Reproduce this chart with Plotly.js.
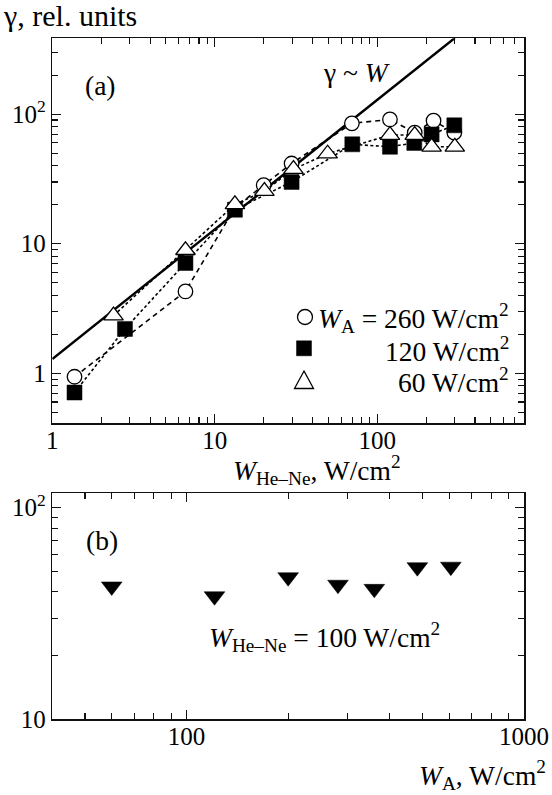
<!DOCTYPE html>
<html>
<head>
<meta charset="utf-8">
<script src="https://cdn.plot.ly/plotly-3.0.1.min.js"></script>
<style>html,body{margin:0;padding:0;background:#fff;}</style>
</head>
<body>
<div id="chart" style="width:552px;height:795px;"></div>
<script>
// Panel (a): gamma vs W_He-Ne for three W_A values
const heNe260 = [1.37, 6.6, 13.3, 20, 29.7, 69.8, 119.7, 170, 222, 298];
const gamma260 = [0.94, 4.28, 19, 28.3, 41.6, 85, 91, 72, 89, 72];
const heNe120 = [1.37, 2.8, 6.6, 13.3, 29.7, 70.2, 119.7, 169, 216, 298];
const gamma120 = [0.71, 2.2, 7.1, 18.3, 30, 58.5, 56, 60, 69.8, 82];
const heNe60 = [2.38, 6.6, 13.3, 20.2, 30.5, 49.5, 119.7, 170, 216, 300];
const gamma60 = [2.79, 8.9, 20.1, 25.5, 37.6, 49.5, 69, 69, 56, 56];
// gamma ~ W reference line
const fitW = [1, 300];
const fitGamma = [1.29, 387];
// Panel (b): gamma vs W_A at W_He-Ne = 100 W/cm2
const wA = [60, 121, 200, 281, 360, 483, 607];
const gammaB = [42.4, 38.1, 46.9, 43.2, 41.3, 52.3, 52.6];

// tick labels
const xTickValsA = [1, 10, 100];
const xTickTextA = ['1', '10', '100'];
const yTickValsA = [1, 10, 100];
const yTickTextA = ['1', '10', '10<sup>2</sup>'];
const xTickValsB = [100, 1000];
const xTickTextB = ['100', '1000'];
const yTickValsB = [10, 100];
const yTickTextB = ['10', '10<sup>2</sup>'];

const W = 552, H = 795;
const FONT = 'Liberation Serif';
const px = x => x / W;
const py = y => 1 - y / H;

function minorVals(lo, hi) {
  const v = [];
  for (let d = Math.pow(10, Math.floor(Math.log10(lo))); d < hi; d *= 10) {
    for (let k = 1; k < 10; k++) {
      const t = k * d;
      if (k !== 1 && t >= lo && t <= hi) v.push(t);
    }
  }
  return v;
}

function axis(extra) {
  return Object.assign({
    type: 'log',
    showline: true, linecolor: '#111', linewidth: 1.5,
    mirror: 'ticks', ticks: 'inside', ticklen: 9, tickwidth: 1.3, tickcolor: '#111',
    showgrid: false, zeroline: false, tickmode: 'array',
    tickfont: {family: FONT, size: 25, color: '#000'},
  }, extra);
}

const traces = [
  {x: fitW, y: fitGamma, mode: 'lines', line: {color: '#000', width: 2.4}, xaxis: 'x', yaxis: 'y', hoverinfo: 'skip'},
  {x: heNe260, y: gamma260, mode: 'lines+markers', xaxis: 'x', yaxis: 'y',
   line: {color: '#000', width: 1.6, dash: '5px,4px'},
   marker: {symbol: 'circle', size: 14.5, color: '#fff', line: {color: '#000', width: 1.3}}},
  {x: heNe120, y: gamma120, mode: 'lines+markers', xaxis: 'x', yaxis: 'y',
   line: {color: '#000', width: 1.6, dash: '3px,2.5px'},
   marker: {symbol: 'square', size: 15, color: '#000', line: {color: '#000', width: 0.5}}},
  {x: heNe60, y: gamma60, mode: 'lines+markers', xaxis: 'x', yaxis: 'y',
   line: {color: '#000', width: 1.6, dash: '3px,2.5px'},
   marker: {symbol: 'triangle-up', size: 17, color: '#fff', line: {color: '#000', width: 1.3}}},
  {x: wA, y: gammaB, mode: 'markers', xaxis: 'x2', yaxis: 'y2',
   marker: {symbol: 'triangle-down', size: 18, color: '#000', line: {color: '#000', width: 0.5}}}
];

function ann(text, x, y, xanchor, size) {
  return {text: text, x: px(x), y: py(y), xref: 'paper', yref: 'paper', showarrow: false,
    xanchor: xanchor || 'center', yanchor: 'middle',
    font: {family: FONT, size: size || 27.5, color: '#000'}};
}

const annotations = [
  ann('γ, rel. units', 1, 16, 'left', 30),
  ann('(a)', 100, 86),
  ann('γ ~ <i>W</i>', 356, 73),
  ann('<i>W</i><sub>A</sub> = 260 W/cm<sup>2</sup>', 511, 318, 'right'),
  ann('120 W/cm<sup>2</sup>', 511, 349, 'right'),
  ann('60 W/cm<sup>2</sup>', 511, 380, 'right'),
  ann('<i>W</i><sub>He–Ne</sub>, W/cm<sup>2</sup>', 317, 470),
  ann('(b)', 102, 540),
  ann('<i>W</i><sub>He–Ne</sub> = 100 W/cm<sup>2</sup>', 324, 637),
  ann('<i>W</i><sub>A</sub>, W/cm<sup>2</sup>', 548, 775, 'right')
];

const shapes = [
  {type: 'circle', xref: 'paper', yref: 'paper', x0: px(297.5), x1: px(312.5), y0: py(324.5), y1: py(309.5),
   line: {color: '#000', width: 1.3}, fillcolor: '#fff'},
  {type: 'rect', xref: 'paper', yref: 'paper', x0: px(296.5), x1: px(311.5), y0: py(355.8), y1: py(340.8),
   line: {color: '#000', width: 0.5}, fillcolor: '#000'},
  {type: 'path', xref: 'paper', yref: 'paper',
   path: 'M ' + px(304) + ' ' + py(371) + ' L ' + px(313.5) + ' ' + py(388.5) + ' L ' + px(294.5) + ' ' + py(388.5) + ' Z',
   line: {color: '#000', width: 1.3}, fillcolor: '#fff'}
];

const minorCfg = vals => ({tickmode: 'array', tickvals: vals, ticks: 'inside', ticklen: 6, tickwidth: 1.2, tickcolor: '#111', showgrid: false});
const xDom = [px(52.3), px(524)];
const layout = {
  width: W, height: H,
  margin: {l: 0, r: 0, t: 0, b: 0},
  paper_bgcolor: '#fff', plot_bgcolor: '#fff',
  showlegend: false,
  xaxis: axis({domain: xDom, anchor: 'y', range: [0, Math.log10(800)],
    tickvals: xTickValsA, ticktext: xTickTextA, ticklabelstandoff: -6,
    minor: minorCfg(minorVals(1, 800))}),
  yaxis: axis({domain: [py(423.3), py(38.3)], anchor: 'x', range: [Math.log10(0.411), Math.log10(385)],
    tickvals: yTickValsA, ticktext: yTickTextA,
    minor: minorCfg(minorVals(0.4, 385))}),
  xaxis2: axis({domain: xDom, anchor: 'y2', range: [Math.log10(40), 3],
    tickvals: xTickValsB, ticktext: xTickTextB, ticklabelstandoff: -6,
    minor: minorCfg(minorVals(40, 1000))}),
  yaxis2: axis({domain: [py(719), py(493.3)], anchor: 'x2', range: [1, Math.log10(117)],
    tickvals: yTickValsB, ticktext: yTickTextB,
    minor: minorCfg(minorVals(10, 117))}),
  annotations: annotations,
  shapes: shapes
};

Plotly.newPlot('chart', traces, layout, {displayModeBar: false, staticPlot: true});
</script>
</body>
</html>
